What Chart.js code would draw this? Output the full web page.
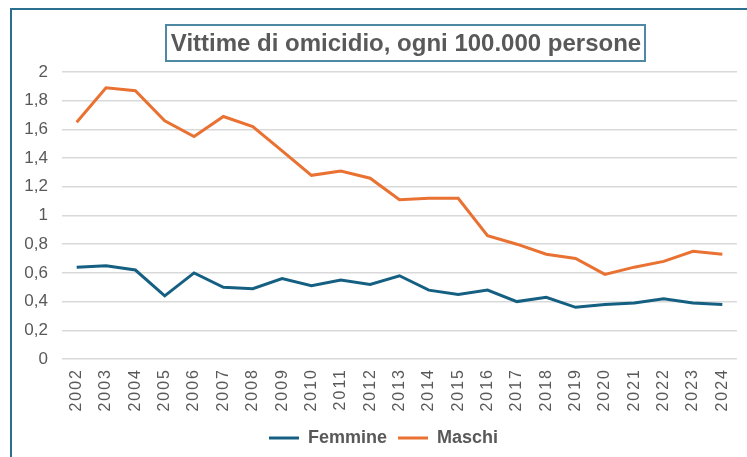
<!DOCTYPE html>
<html>
<head>
<meta charset="utf-8">
<script src="https://cdn.jsdelivr.net/npm/chart.js@4"></script>
<style>
  body { margin: 0; background: #fff; overflow: hidden; }
  #frame { position: absolute; left: 10px; top: 8px; width: 800px; height: 500px;
           border-left: 2px solid #2a6f8f; border-top: 2px solid #2a6f8f; }
  #wrap { position: absolute; left: 0; top: 0; width: 747px; height: 457px; }
</style>
</head>
<body>
<div id="frame"></div>
<div id="wrap"><canvas id="myChart"></canvas></div>
<script>
const anni = ['2002', '2003', '2004', '2005', '2006', '2007', '2008', '2009', '2010', '2011', '2012',
  '2013', '2014', '2015', '2016', '2017', '2018', '2019', '2020', '2021', '2022', '2023', '2024'];
const femmine = [0.64, 0.65, 0.62, 0.44, 0.60, 0.50, 0.49, 0.56, 0.51, 0.55, 0.52,
  0.58, 0.48, 0.45, 0.48, 0.40, 0.43, 0.36, 0.38, 0.39, 0.42, 0.39, 0.38];
const maschi = [1.65, 1.89, 1.87, 1.66, 1.55, 1.69, 1.62, 1.45, 1.28, 1.31, 1.26,
  1.11, 1.12, 1.12, 0.86, 0.80, 0.73, 0.70, 0.59, 0.64, 0.68, 0.75, 0.73];
const titolo = 'Vittime di omicidio, ogni 100.000 persone';

const ctx = document.getElementById('myChart');

const data = {
  labels: anni,
  datasets: [{
    label: 'Femmine',
    data: femmine,
    borderColor: '#156082',
    backgroundColor: '#156082',
    borderWidth: 3,
    pointRadius: 0,
    tension: 0
  }, {
    label: 'Maschi',
    data: maschi,
    borderColor: '#e97132',
    backgroundColor: '#e97132',
    borderWidth: 3,
    pointRadius: 0,
    tension: 0
  }]
};

// title drawn in a bordered box, like the Excel one
const titleBox = {
  id: 'titleBox',
  afterLayout(chart) {
    // legend sits a bit right of centre in the original
    chart.legend.left += 10;
    chart.legend.right += 10;
  },
  afterDraw(chart) {
    const c = chart.ctx;
    c.save();
    c.font = 'bold 24px "Liberation Sans", Arial, sans-serif';
    c.fillStyle = '#595959';
    c.textAlign = 'center';
    c.textBaseline = 'middle';
    c.fillText(titolo, 406, 44);
    c.strokeStyle = '#4f89a3';
    c.lineWidth = 2;
    c.strokeRect(166, 25, 479, 36);
    c.restore();
  }
};

const config = {
  type: 'line',
  data,
  plugins: [titleBox],
  options: {
    responsive: false,
    animation: false,
    layout: {
      padding: { top: 72, right: 10, left: 10, bottom: 0 }
    },
    plugins: {
      title: { display: false },
      tooltip: { enabled: false },
      legend: {
        position: 'bottom',
        labels: {
          usePointStyle: true,
          pointStyle: 'line',
          pointStyleWidth: 30,
          boxHeight: 3,
          padding: 11,
          color: '#595959',
          font: { family: '"Liberation Sans", Arial, sans-serif', size: 18, weight: 'bold' }
        }
      }
    },
    scales: {
      x: {
        offset: true,
        grid: { display: false },
        border: { display: false },
        afterFit(scale) { scale.height = 59; },
        ticks: {
          minRotation: 90,
          maxRotation: 90,
          padding: 1,
          color: '#595959',
          font: { family: '"Liberation Sans", Arial, sans-serif', size: 16 }
        }
      },
      y: {
        min: 0,
        max: 2,
        afterFit(scale) { scale.width = 52; },
        grid: { color: '#d9d9d9', lineWidth: 1.5, drawTicks: false },
        border: { display: false },
        ticks: {
          stepSize: 0.2,
          padding: 14,
          color: '#595959',
          font: { family: '"Liberation Sans", Arial, sans-serif', size: 17 },
          callback: (v) => String(Math.round(v * 10) / 10).replace('.', ',')
        }
      }
    }
  }
};

ctx.width = 747;
ctx.height = 457;
let myChart = new Chart(ctx, config);

// year labels in the reference are spaced out a little
const sx = myChart.scales.x;
const drawLabelsOrig = sx.drawLabels.bind(sx);
sx.drawLabels = function (area) {
  this.ctx.save();
  this.ctx.letterSpacing = '2px';
  drawLabelsOrig(area);
  this.ctx.restore();
};
myChart.draw();
</script>
</body>
</html>
